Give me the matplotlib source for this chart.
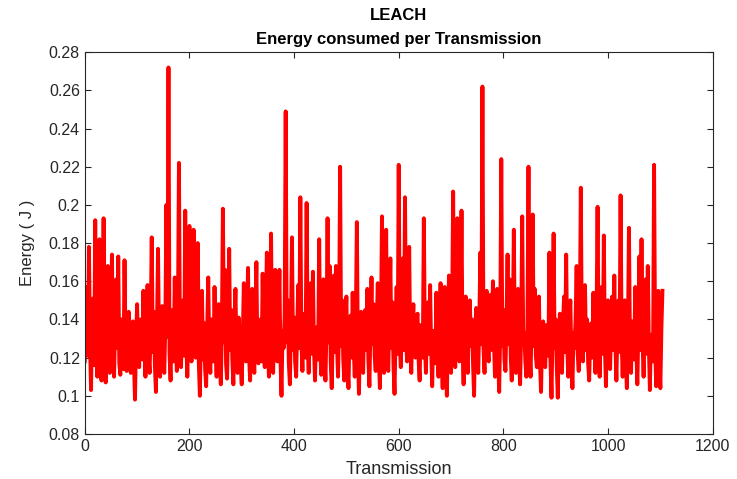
import numpy as np
import matplotlib
matplotlib.use("Agg")
import matplotlib.pyplot as plt
from matplotlib.ticker import FormatStrFormatter

plt.rcParams['font.family'] = ['Liberation Sans', 'DejaVu Sans']

""" data read off the reference: energy per transmission, one value every 2 transmissions """
step = 2
energy = [
    # 0
    0.118, 0.135, 0.157, 0.121, 0.178, 0.128, 0.103, 0.138, 0.151, 0.116, 0.192, 0.131, 0.110, 0.142, 0.182, 0.119, 0.108, 0.136, 0.193, 0.124,
    0.107, 0.139, 0.168, 0.118, 0.112, 0.141, 0.174, 0.122, 0.110, 0.137, 0.161, 0.125, 0.173, 0.117, 0.111, 0.140, 0.128, 0.114, 0.171, 0.126,
    0.113, 0.133, 0.144, 0.118, 0.112, 0.136, 0.139, 0.117, 0.098, 0.128, 0.148, 0.121, 0.115, 0.140, 0.132, 0.119, 0.155, 0.127, 0.110, 0.138,
    0.158, 0.120, 0.112, 0.139, 0.183, 0.123, 0.144, 0.116, 0.102, 0.135, 0.177, 0.126, 0.110, 0.141, 0.147, 0.118, 0.112, 0.137, 0.200, 0.131,
    # 160
    0.272, 0.122, 0.108, 0.136, 0.145, 0.118, 0.162, 0.127, 0.113, 0.139, 0.222, 0.124, 0.115, 0.138, 0.150, 0.121, 0.197, 0.129, 0.110, 0.134,
    0.189, 0.126, 0.118, 0.141, 0.187, 0.123, 0.120, 0.137, 0.180, 0.117, 0.100, 0.132, 0.155, 0.119, 0.138, 0.114, 0.105, 0.136, 0.162, 0.121,
    0.112, 0.140, 0.131, 0.118, 0.157, 0.125, 0.110, 0.136, 0.148, 0.120, 0.106, 0.134, 0.198, 0.128, 0.166, 0.117, 0.109, 0.139, 0.177, 0.124,
    0.145, 0.119, 0.106, 0.137, 0.156, 0.122, 0.112, 0.141, 0.133, 0.116, 0.106, 0.131, 0.159, 0.126, 0.118, 0.138, 0.167, 0.121, 0.108, 0.135,
    # 320
    0.156, 0.124, 0.112, 0.139, 0.170, 0.120, 0.117, 0.136, 0.140, 0.118, 0.164, 0.127, 0.115, 0.142, 0.175, 0.123, 0.110, 0.133, 0.185, 0.125,
    0.112, 0.138, 0.166, 0.121, 0.118, 0.140, 0.166, 0.119, 0.100, 0.134, 0.125, 0.142, 0.249, 0.128, 0.150, 0.117, 0.106, 0.137, 0.183, 0.124,
    0.141, 0.118, 0.110, 0.136, 0.158, 0.125, 0.204, 0.129, 0.113, 0.139, 0.143, 0.120, 0.201, 0.127, 0.112, 0.138, 0.159, 0.122, 0.165, 0.126,
    0.108, 0.131, 0.136, 0.119, 0.182, 0.124, 0.111, 0.140, 0.161, 0.121, 0.108, 0.135, 0.193, 0.128, 0.168, 0.118, 0.104, 0.133, 0.163, 0.123,
    # 480
    0.168, 0.127, 0.110, 0.137, 0.220, 0.126, 0.150, 0.119, 0.108, 0.138, 0.152, 0.117, 0.104, 0.132, 0.142, 0.120, 0.154, 0.125, 0.110, 0.139,
    0.191, 0.122, 0.101, 0.133, 0.144, 0.118, 0.112, 0.140, 0.145, 0.124, 0.156, 0.119, 0.105, 0.136, 0.162, 0.127, 0.148, 0.121, 0.113, 0.138,
    0.159, 0.120, 0.104, 0.135, 0.194, 0.126, 0.112, 0.139, 0.187, 0.123, 0.113, 0.141, 0.172, 0.125, 0.149, 0.116, 0.101, 0.132, 0.157, 0.122,
    0.221, 0.128, 0.115, 0.138, 0.172, 0.124, 0.204, 0.130, 0.118, 0.140, 0.178, 0.126, 0.112, 0.136, 0.148, 0.121, 0.120, 0.141, 0.143, 0.119,
    # 640
    0.108, 0.137, 0.130, 0.120, 0.193, 0.127, 0.112, 0.139, 0.149, 0.122, 0.158, 0.124, 0.105, 0.134, 0.128, 0.117, 0.154, 0.126, 0.110, 0.138,
    0.159, 0.121, 0.104, 0.136, 0.157, 0.119, 0.100, 0.133, 0.163, 0.125, 0.112, 0.140, 0.207, 0.128, 0.115, 0.142, 0.193, 0.191, 0.118, 0.137,
    0.197, 0.124, 0.106, 0.138, 0.152, 0.120, 0.112, 0.141, 0.150, 0.126, 0.140, 0.117, 0.100, 0.133, 0.146, 0.121, 0.112, 0.139, 0.175, 0.127,
    0.262, 0.125, 0.112, 0.140, 0.155, 0.122, 0.118, 0.137, 0.153, 0.124, 0.160, 0.128, 0.110, 0.139, 0.156, 0.118, 0.102, 0.134, 0.224, 0.126,
    # 800
    0.145, 0.119, 0.113, 0.140, 0.174, 0.127, 0.161, 0.121, 0.108, 0.135, 0.187, 0.125, 0.112, 0.138, 0.156, 0.120, 0.106, 0.133, 0.194, 0.129,
    0.133, 0.118, 0.110, 0.136, 0.220, 0.124, 0.110, 0.140, 0.195, 0.126, 0.156, 0.121, 0.115, 0.139, 0.152, 0.117, 0.102, 0.131, 0.139, 0.120,
    0.115, 0.137, 0.132, 0.121, 0.175, 0.118, 0.099, 0.134, 0.185, 0.125, 0.140, 0.116, 0.099, 0.132, 0.143, 0.120, 0.112, 0.138, 0.152, 0.123,
    0.174, 0.126, 0.110, 0.139, 0.150, 0.119, 0.104, 0.133, 0.125, 0.140, 0.168, 0.122, 0.113, 0.137, 0.209, 0.127, 0.118, 0.141, 0.158, 0.124,
    # 960
    0.140, 0.117, 0.108, 0.134, 0.138, 0.120, 0.154, 0.125, 0.112, 0.139, 0.199, 0.128, 0.110, 0.136, 0.157, 0.122, 0.184, 0.126, 0.105, 0.135,
    0.150, 0.121, 0.114, 0.138, 0.152, 0.124, 0.163, 0.127, 0.108, 0.136, 0.150, 0.123, 0.205, 0.129, 0.110, 0.140, 0.150, 0.118, 0.104, 0.133,
    0.188, 0.125, 0.112, 0.139, 0.136, 0.119, 0.157, 0.126, 0.106, 0.135, 0.173, 0.124, 0.182, 0.128, 0.110, 0.137, 0.161, 0.122, 0.168, 0.126,
    0.103, 0.132, 0.125, 0.118, 0.221, 0.127, 0.105, 0.138, 0.155, 0.121, 0.104, 0.135, 0.155,
]
transmission = np.arange(len(energy)) * step

x_ticks = [0, 200, 400, 600, 800, 1000, 1200]
y_ticks = [0.08, 0.1, 0.12, 0.14, 0.16, 0.18, 0.2, 0.22, 0.24, 0.26, 0.28]

""" plot """
fig = plt.figure(figsize=(7.37, 4.79), dpi=100)
ax = fig.add_axes([0.115, 0.094, 0.852, 0.797])
ax.plot(transmission, energy, color=(1, 0, 0), linewidth=2.8, solid_joinstyle='round')

ax.set_xlim(0, 1200)
ax.set_ylim(0.08, 0.28)
ax.set_xticks(x_ticks)
ax.set_yticks(y_ticks)
ax.yaxis.set_major_formatter(FormatStrFormatter('%g'))
ax.tick_params(direction='in', top=True, right=True, length=4, width=0.8,
               colors='#262626', labelsize=11.5)
for s in ax.spines.values():
    s.set_color('#262626')
    s.set_linewidth(0.8)

ax.set_title("LEACH\nEnergy consumed per Transmission", fontsize=12,
             fontweight='bold', color='black', pad=6, linespacing=1.75)
ax.set_xlabel('Transmission', fontsize=13, color='#262626', labelpad=5)
ax.set_ylabel('Energy ( J )', fontsize=12, color='#262626', labelpad=10)

plt.savefig('out.png', dpi=100)
